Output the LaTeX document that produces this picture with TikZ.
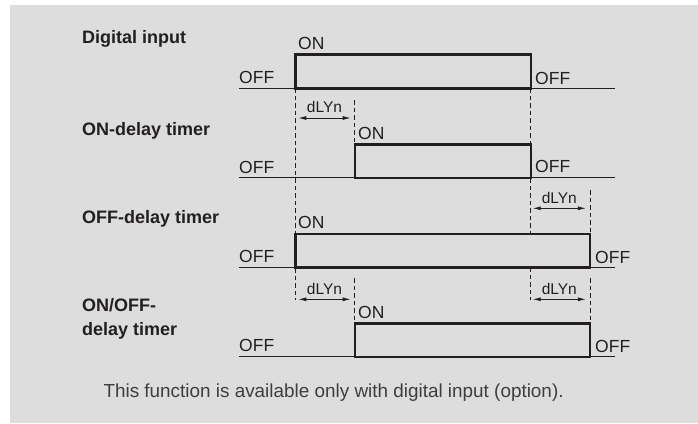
\documentclass[tikz,border=0pt]{standalone}
\usepackage{fontspec}
\setmainfont{Liberation Sans}
\usepackage{tikz}
\usetikzlibrary{arrows.meta}
\definecolor{panelgray}{RGB}{221,221,221}
\definecolor{inkdark}{RGB}{35,31,32}
\definecolor{notegray}{RGB}{62,62,62}

\begin{document}
\begin{tikzpicture}[x=1pt, y=-1pt, color=inkdark,
  sig/.style={line width=2.4pt, line join=miter},
  rail/.style={line width=0.9pt},
  guide/.style={line width=0.8pt, dash pattern=on 4.5pt off 3pt},
  dly/.style={line width=0.9pt, {Latex[length=8pt,width=4pt]}-{Latex[length=8pt,width=4pt]}},
  lvl/.style={font=\fontsize{17.5}{20}\selectfont, anchor=base west, inner sep=0pt},
  ttl/.style={font=\fontsize{18}{23.3}\selectfont\bfseries, anchor=base west, inner sep=0pt, align=left},
  dlytxt/.style={font=\fontsize{15.5}{18}\selectfont, anchor=base, inner sep=0pt}]
  \useasboundingbox (0,0) rectangle (698,423);
  % panel
  \fill[panelgray] (10,5) rectangle (698,423);
  % row titles (base of a two-line title is its last line)
  \node[ttl] (tDI)  at (82,43.3)  {Digital input};
  \node[ttl] (tON)  at (82,135)   {ON-delay timer};
  \node[ttl] (tOFF) at (82,223.3) {OFF-delay timer};
  \node[ttl] (tBOTH) at (82,335)  {ON/OFF-\\delay timer};
  % signals: baseline y / high y / rise x / fall x
  \foreach \yb/\yh/\xr/\xf in {88.3/54.5/295.3/530.7, 177.7/144.3/354.7/530.7,
                               267.3/234/295.3/590, 356.7/323.3/354.7/590} {
    \draw[rail] (238.7,\yb) -- (615.3,\yb);
    \draw[sig] (\xr,\yb) rectangle (\xf,\yh);
  }
  % level labels
  \foreach \x/\y in {298/49.3, 358/139.3, 298/228.3, 358/318.3}
    \node[lvl] at (\x,\y) {ON};
  \foreach \x/\y in {239/83.3, 239/173.3, 239/262.3, 239/351.7,
                     535/84, 535/172.7, 595/263.3, 595/352.3}
    \node[lvl] at (\x,\y) {OFF};
  % dashed guides
  \draw[guide] (295.3,88.3) -- (295.3,300);
  \draw[guide] (354.7,100) -- (354.7,144.3);
  \draw[guide] (354.7,278) -- (354.7,323.3);
  \draw[guide] (530.7,88.3) -- (530.7,234);
  \draw[guide] (530.7,267.3) -- (530.7,300);
  \draw[guide] (590,190) -- (590,234);
  \draw[guide] (590,278) -- (590,323.3);
  % delay arrows
  \coordinate (d1a) at (298.3,118);   \coordinate (d1b) at (350.7,118);
  \coordinate (d2a) at (532.7,208.3); \coordinate (d2b) at (585.9,208.3);
  \coordinate (d3a) at (298.3,299.3); \coordinate (d3b) at (350.7,299.3);
  \coordinate (d4a) at (532.7,299.3); \coordinate (d4b) at (585.9,299.3);
  \foreach \n in {1,...,4}
    \draw[dly] (d\n a) -- (d\n b) node[dlytxt, midway, yshift=5.3pt] {dLYn};
  % footnote
  \node[anchor=base west, inner sep=0pt, text=notegray, font=\fontsize{18.9}{22}\selectfont]
    (note) at (103.3,397.3) {This function is available only with digital input (option).};
\end{tikzpicture}
\end{document}
